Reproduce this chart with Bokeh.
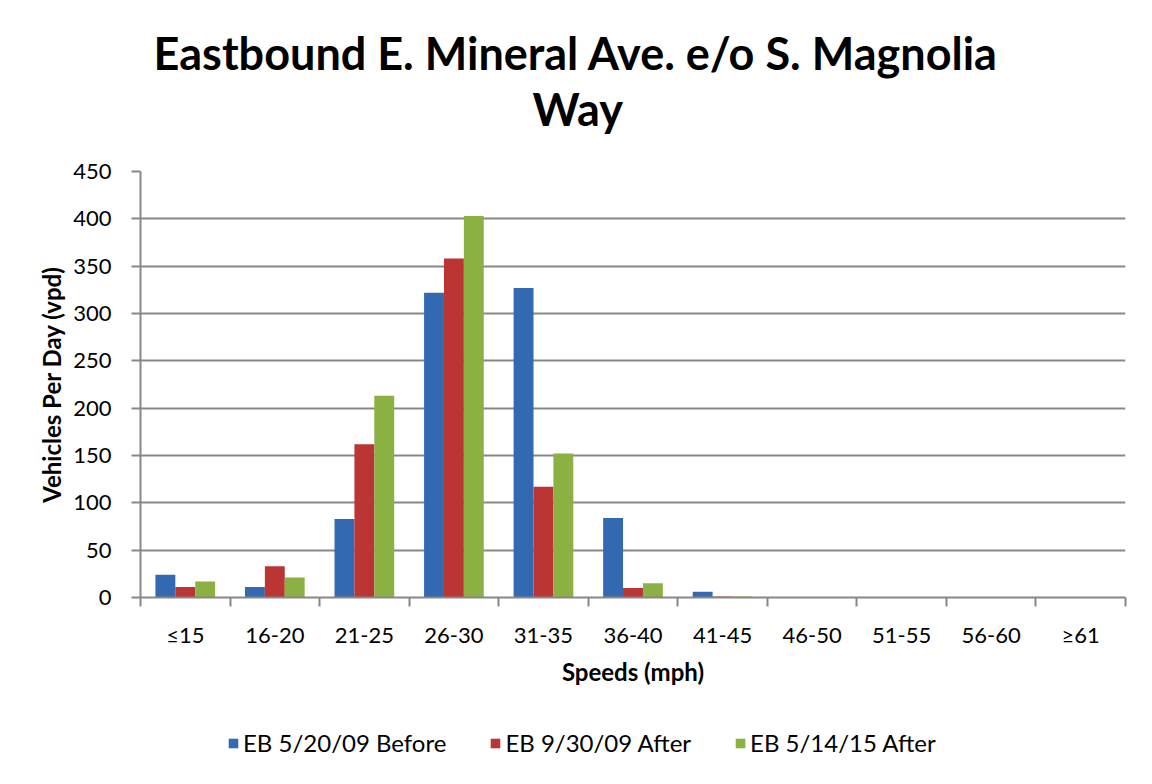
from bokeh.plotting import figure
from bokeh.layouts import column
from bokeh.models import FixedTicker, Legend, LegendItem, ColumnDataSource, Title
from bokeh.embed import file_html
from bokeh.resources import INLINE

categories = ["≤15", "16-20", "21-25", "26-30", "31-35", "36-40", "41-45", "46-50", "51-55", "56-60", "≥61"]
series_names = ["EB 5/20/09 Before", "EB 9/30/09 After", "EB 5/14/15 After"]
before_2009 = [24, 11, 83, 322, 327, 84, 6, 0, 0, 0, 0]
after_2009 = [11, 33, 162, 358, 117, 10, 1, 0, 0, 0, 0]
after_2015 = [17, 21, 213, 403, 152, 15, 1, 0, 0, 0, 0]
colors = ["#3369B0", "#BA3533", "#8AB142"]
y_ticks = [0, 50, 100, 150, 200, 250, 300, 350, 400, 450]

FONT = "Lato"
GRID = "#878787"

p = figure(frame_width=985, frame_height=426, output_backend="svg", toolbar_location=None,
           x_range=(0, len(categories)), y_range=(0, 450),
           min_border_left=140, min_border_right=11, min_border_top=171, min_border_bottom=103)
p.outline_line_color = None
p.background_fill_color = "white"
p.border_fill_color = "white"

# legend strip below the chart (same series, drawn outside its visible range)
p2 = figure(width=1136, height=68, output_backend="svg", toolbar_location=None,
            x_range=(0, len(categories)), y_range=(1000, 1001),
            x_axis_location=None, y_axis_location=None,
            min_border_left=0, min_border_right=0, min_border_top=0, min_border_bottom=0)
p2.outline_line_color = None
p2.grid.grid_line_color = None
p2.border_fill_color = "white"
p2.background_fill_color = "white"

bar_w = 1.0 / 4.5
offsets = [-bar_w, 0.0, bar_w]
leg_renderers = []
for vals, col, off in zip([before_2009, after_2009, after_2015], colors, offsets):
    src = ColumnDataSource(dict(x=[i + 0.5 + off for i in range(len(categories))], top=vals))
    p.vbar(x="x", top="top", width=bar_w, source=src, fill_color=col, line_color=None)
    leg_renderers.append(p2.vbar(x="x", top="top", width=bar_w, source=src,
                                 fill_color=col, line_color=None))

# y axis
p.yaxis.ticker = FixedTicker(ticks=y_ticks)
p.yaxis.axis_line_color = GRID
p.yaxis.axis_line_width = 2
p.yaxis.major_tick_line_color = GRID
p.yaxis.major_tick_line_width = 2
p.yaxis.major_tick_out = 9
p.yaxis.major_tick_in = 0
p.yaxis.minor_tick_line_color = None
p.yaxis.major_label_text_font = FONT
p.yaxis.major_label_text_font_size = "22px"
p.yaxis.major_label_text_color = "black"
p.yaxis.major_label_standoff = 20
p.yaxis.axis_label = "Vehicles Per Day (vpd)"
p.yaxis.axis_label_text_font = FONT
p.yaxis.axis_label_text_font_style = "bold"
p.yaxis.axis_label_text_font_size = "24px"
p.yaxis.axis_label_text_color = "black"
p.yaxis.axis_label_standoff = 4

# x axis
p.xaxis.ticker = FixedTicker(ticks=[i + 0.5 for i in range(len(categories))],
                             minor_ticks=list(range(len(categories) + 1)))
p.xaxis.major_label_overrides = {i + 0.5: c for i, c in enumerate(categories)}
p.xaxis.major_tick_line_color = None
p.xaxis.minor_tick_line_color = GRID
p.xaxis.minor_tick_line_width = 2
p.xaxis.minor_tick_out = 9
p.xaxis.minor_tick_in = 0
p.xaxis.axis_line_color = GRID
p.xaxis.axis_line_width = 2
p.xaxis.major_label_text_font = FONT
p.xaxis.major_label_text_font_size = "22px"
p.xaxis.major_label_text_color = "black"
p.xaxis.major_label_standoff = 14
p.xaxis.axis_label = "Speeds (mph)"
p.xaxis.axis_label_text_font = FONT
p.xaxis.axis_label_text_font_style = "bold"
p.xaxis.axis_label_text_font_size = "24px"
p.xaxis.axis_label_text_color = "black"
p.xaxis.axis_label_standoff = 6

p.xgrid.grid_line_color = None
p.ygrid.grid_line_color = GRID
p.ygrid.grid_line_width = 2
p.ygrid.ticker = FixedTicker(ticks=y_ticks)

# title (two lines)
for txt, so, off in [("Way", 72, 392), ("Eastbound E. Mineral Ave. e/o S. Magnolia", -72, 13)]:
    t = Title(text=txt, align="left", offset=off, text_font=FONT, text_font_size="45px",
              text_font_style="bold", text_color="black", standoff=so)
    p.add_layout(t, "above")

legend = Legend(items=[LegendItem(label=n, renderers=[r]) for n, r in zip(series_names, leg_renderers)],
                orientation="horizontal", location=(87, 11),
                label_text_font=FONT, label_text_font_size="24px", label_text_color="black",
                glyph_width=12, glyph_height=12, spacing=43, border_line_color=None,
                background_fill_alpha=0, label_standoff=4, margin=0, padding=0)
p2.add_layout(legend, "center")

layout = column(p, p2, spacing=0)
open("out.html", "w").write(file_html(layout, INLINE))
